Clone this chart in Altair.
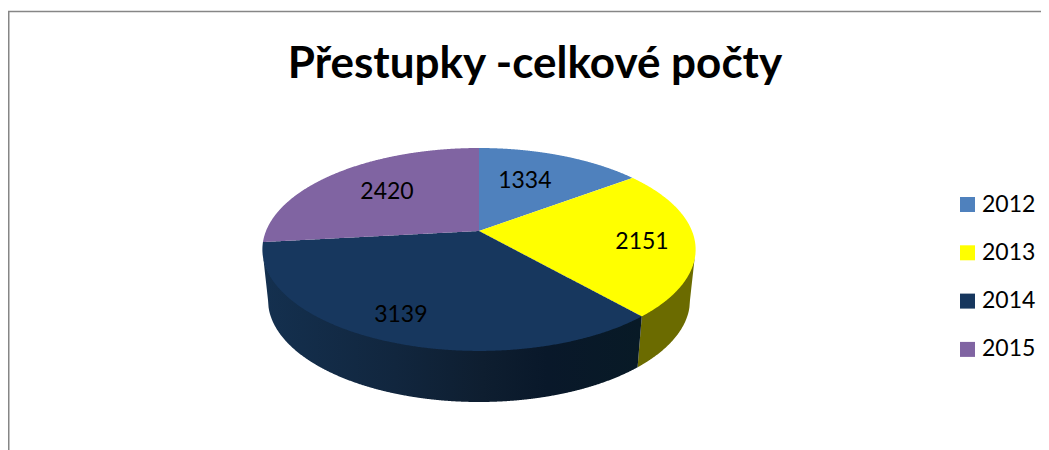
import numpy as np
import pandas as pd
import altair as alt

YEARS = ["2012", "2013", "2014", "2015"]
VALUES = [1334, 2151, 3139, 2420]
COLORS = ["#4f81bd", "#ffff00", "#17375e", "#8064a2"]
TITLE = "Přestupky -celkové počty"
LABEL_RADIUS = [0.614, 0.758, 0.806, 0.633]
LABEL_TURN = [-3.8, 2.4, 2.0, 0.8]

FONT = "Lato"
W, H = 1033, 442
OX, OY = 8, 8  # page margin: geometry below is in page pixels

# perspective of the pie
CX, CY = 479.0, 231.0
K, A, B = -0.182, 98.1, 213.0
BOT_CY, BOT_RX, BOT_RY = 300.0, 211.0, 102.0


def project(theta_deg, r=1.0):
    t = np.radians(theta_deg)
    u, v = r * np.sin(t), -r * np.cos(t)
    d = 1 + K * v
    return CX + B * u / d, CY + A * v / d


def columns(poly, xs):
    rows = []
    n = len(poly)
    for x in xs:
        ys = []
        for i in range(n):
            (x1, y1), (x2, y2) = poly[i], poly[(i + 1) % n]
            if min(x1, x2) <= x <= max(x1, x2):
                if x1 == x2:
                    ys += [y1, y2]
                else:
                    ys.append(y1 + (y2 - y1) * (x - x1) / (x2 - x1))
        if ys:
            rows.append((x, min(ys), max(ys)))
    return rows


total = sum(VALUES)
cum = np.concatenate([[0], np.cumsum(VALUES)]) / total * 360.0

face_rows = []
for i, year in enumerate(YEARS):
    arc = np.linspace(cum[i], cum[i + 1], 120)
    pts = [(CX, CY)] + [project(a) for a in arc]
    xs = np.unique(np.concatenate([[p[0] for p in pts],
                                   np.linspace(min(p[0] for p in pts), max(p[0] for p in pts), 300)]))
    for x, lo, hi in columns(pts, xs):
        face_rows.append({"year": year, "x": x - OX, "y": lo - OY, "y2": hi - OY})
faces = pd.DataFrame(face_rows)

# side wall
outline = [project(a) for a in np.linspace(0, 360, 1441)]
xmin, xmax = min(p[0] for p in outline), max(p[0] for p in outline)
MID_Y = CY + 18.5
OVERLAP = 1.5  # wall runs under the top face, so no pale seam shows


def arc_low(x):
    return columns(outline, [x])[0][2]


def bottom(x):
    dx = x - CX
    if abs(dx) <= BOT_RX:
        return BOT_CY + BOT_RY * np.sqrt(1 - (dx / BOT_RX) ** 2)
    # vertical-ish silhouette between the two rims
    edge = xmin if dx < 0 else xmax
    foot = CX - BOT_RX if dx < 0 else CX + BOT_RX
    return MID_Y + (BOT_CY - MID_Y) * (x - edge) / (foot - edge)


split_top = project(cum[2])
split_bx = CX + (split_top[0] - CX) * BOT_RX / (xmax - CX)
split_by = bottom(split_bx)


def split_y(x):
    return split_by + (split_top[1] - split_by) * (x - split_bx) / (split_top[0] - split_bx)


xs = np.linspace(xmin + 0.01, xmax - 0.01, 700)
xs = np.unique(np.concatenate([xs, [split_bx, split_top[0], CX - BOT_RX, CX + BOT_RX]]))
navy, olive = [], []
for x in xs:
    lo, hi = arc_low(x), bottom(x)
    if x <= split_top[0]:
        end = hi if x <= split_bx else min(hi, split_y(x))
        navy.append({"x": x - OX, "y": min(lo, lo - OVERLAP) - OY, "y2": end - OY})
    if x >= split_bx:
        start = lo - OVERLAP if x >= split_top[0] else max(lo - OVERLAP, split_y(x))
        olive.append({"x": x - OX, "y": start - OY, "y2": hi - OY})

xsc = alt.Scale(domain=[0, W], range=[0, W], nice=False, zero=False)
ysc = alt.Scale(domain=[0, H], range=[0, H], nice=False, zero=False)
X = alt.X("x:Q", scale=xsc, axis=None)
Y = alt.Y("y:Q", scale=ysc, axis=None)
Y2 = alt.Y2("y2:Q")

navy_wall = alt.Chart(pd.DataFrame(navy)).mark_area(
    color=alt.Gradient(gradient="linear", x1=0, x2=1, y1=0, y2=0, stops=[
        alt.GradientStop(offset=0.0, color="#14304f"),
        alt.GradientStop(offset=0.35, color="#11263e"),
        alt.GradientStop(offset=0.58, color="#0e1e30"),
        alt.GradientStop(offset=0.75, color="#09182a"),
        alt.GradientStop(offset=1.0, color="#081a26"),
    ])
).encode(x=X, y=Y, y2=Y2)

olive_wall = alt.Chart(pd.DataFrame(olive)).mark_area(color="#6b6b00").encode(x=X, y=Y, y2=Y2)

top = alt.Chart(faces).mark_area().encode(
    x=X, y=Y, y2=Y2,
    color=alt.Color("year:N", scale=alt.Scale(domain=YEARS, range=COLORS),
                    legend=alt.Legend(
                        title=None, orient="none", legendX=948, legendY=185,
                        symbolType="square", symbolSize=225, symbolStrokeWidth=0,
                        symbolOpacity=1, labelFont=FONT, labelFontSize=23, labelColor="#000000",
                        labelOffset=3, rowPadding=24.3, padding=0)),
)

lab = []
for i, v in enumerate(VALUES):
    mid = (cum[i] + cum[i + 1]) / 2 + LABEL_TURN[i]
    px, py = project(mid, LABEL_RADIUS[i])
    lab.append({"x": px - OX, "y": py - OY, "label": str(v)})
labels = alt.Chart(pd.DataFrame(lab)).mark_text(
    font=FONT, fontSize=23, color="#000000", align="center", baseline="middle"
).encode(x=X, y=Y, text="label:N")

title = alt.Chart(pd.DataFrame({"t": [TITLE]})).mark_text(
    font=FONT, fontSize=44, fontWeight="bold", color="#000000", align="center", baseline="alphabetic"
).encode(x=alt.value(535 - OX), y=alt.value(78 - OY), text="t:N")

vline = alt.Chart(pd.DataFrame({"a": [0]})).mark_rule(color="#868686", strokeWidth=2).encode(
    x=alt.value(0.5), y=alt.value(3.5), y2=alt.value(H))
hline = alt.Chart(pd.DataFrame({"a": [0]})).mark_rule(color="#868686", strokeWidth=1.5).encode(
    x=alt.value(0), x2=alt.value(W), y=alt.value(3.5))

chart = alt.layer(vline, hline, olive_wall, navy_wall, top, labels, title).properties(
    width=W, height=H, padding=0, autosize=alt.AutoSizeParams(type="none", contains="content"),
    background="#ffffff",
).configure_view(stroke=None)

chart.save("out.html", embed_options={"renderer": "svg", "actions": False})
